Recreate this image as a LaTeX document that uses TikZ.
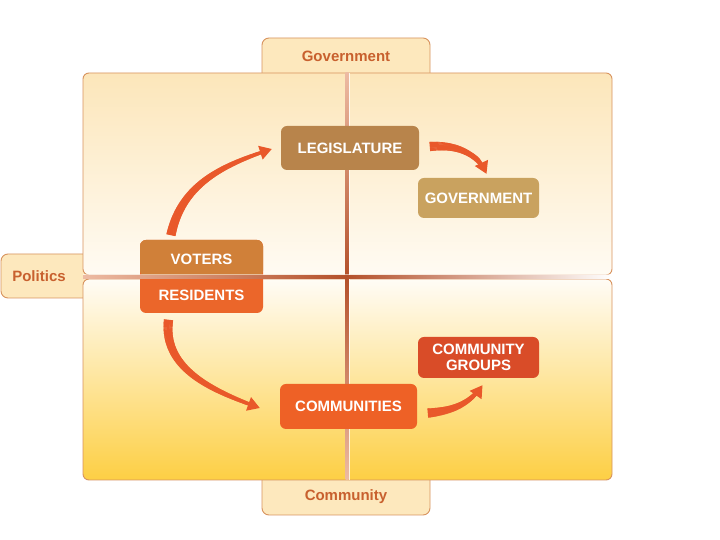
\documentclass[tikz,border=0pt]{standalone}
\usepackage{fontspec}
\setmainfont{Liberation Sans}
\usetikzlibrary{arrows.meta,decorations.markings}
\definecolor{tabfill}{HTML}{FDE8BD}
\definecolor{edge}{HTML}{D8935E}
\definecolor{tabtext}{HTML}{C8602E}
\definecolor{panelA}{HTML}{FCE6BA}
\definecolor{panelB}{HTML}{FFFBF3}
\definecolor{panelC}{HTML}{FFFCF6}
\definecolor{panelD}{HTML}{FDCF44}
\definecolor{lndark}{HTML}{B4512B}
\definecolor{lnlight}{HTML}{EDBBA3}
\definecolor{legfill}{HTML}{B8844B}
\definecolor{govfill}{HTML}{C9A25F}
\definecolor{vtop}{HTML}{D08039}
\definecolor{rbot}{HTML}{EB662A}
\definecolor{cgfill}{HTML}{D94C28}
\definecolor{comfill}{HTML}{EE6126}
\definecolor{arr}{HTML}{E9582A}
\tikzset{
  tabshape/.style={fill=tabfill, draw=edge, line width=0.9pt, rounded corners=7pt},
  tablabel/.style={text=tabtext, font=\fontsize{15}{16}\selectfont\bfseries},
  panel/.style={draw=edge, line width=0.9pt, rounded corners=6pt},
  box/.style={rounded corners=6pt, inner sep=0pt},
  lbl/.style={text=white, font=\fontsize{15}{16}\selectfont\bfseries, align=center, inner sep=0pt},
  flow/.style={draw=arr, line width=2pt, -{Triangle[length=12pt,width=14pt]},
    decoration={markings, mark=between positions 0 and -8pt step 0.5pt with {%
      \pgfmathsetmacro\hw{4.6-3.2*\pgfkeysvalueof{/pgf/decoration/mark info/distance from start}/\pgfdecoratedpathlength}%
      \fill[arr] (-0.45pt,-\hw pt) rectangle (0.45pt,\hw pt);}},
    postaction=decorate}
}
\begin{document}
\begin{tikzpicture}[x=1pt,y=1pt]
\useasboundingbox (0,0) rectangle (720,540);
\fill[white] (0,0) rectangle (720,540);
% tabs
\path[tabshape] (262,455) |- (430,502) -- (430,455) -- cycle;
\path[tabshape] (262,75) |- (430,25) -- (430,75) -- cycle;
\path[tabshape] (95,242) -| (1,286) -- (95,286) -- cycle;
\node[tablabel] (tgov) at (346,484) {Government};
\node[tablabel] (tcom) at (346,43) {Community};
\node[tablabel] (tpol) at (39,264) {Politics};
% panels
\path[panel, top color=panelA, bottom color=panelB] (83,265) rectangle (612,467);
\path[panel, top color=panelC, bottom color=panelD] (83,60) rectangle (612,261);
% vertical divider
\shade[top color=lnlight, bottom color=lndark] (345.5,263) rectangle (348.5,467);
\shade[top color=lndark, bottom color=lnlight] (345.5,60) rectangle (348.5,263);
\fill[white, opacity=0.8] (349,60) rectangle (350.2,467);
% boxes
\node[box, fill=legfill, minimum width=138pt, minimum height=44pt] (leg) at (350,392) {};
\node[lbl] (legt) at (leg.center) {LEGISLATURE};
\node[box, fill=govfill, minimum width=121pt, minimum height=40pt] (gov) at (478.5,342) {};
\node[lbl] (govt) at (gov.center) {GOVERNMENT};
\node[box, fill=rbot, minimum width=123pt, minimum height=73pt,
  path picture={\fill[vtop] (path picture bounding box.north west) rectangle (path picture bounding box.east);}] (vr) at (201.5,263.5) {};
\node[lbl] (voters) at (201.5,281) {VOTERS};
\node[lbl] (residents) at (201.5,245) {RESIDENTS};
\node[box, fill=cgfill, minimum width=121pt, minimum height=41pt] (cg) at (478.5,182.5) {};
\node[lbl] (cgt) at (cg.center) {COMMUNITY\\GROUPS};
\node[box, fill=comfill, minimum width=137pt, minimum height=45pt] (com) at (348.5,133.5) {};
\node[lbl] (comt) at (com.center) {COMMUNITIES};
% horizontal divider
\shade[left color=lnlight, right color=lndark] (83,261.5) rectangle (347,264.5);
\shade[left color=lndark, right color=white] (347,261.5) rectangle (612,264.5);
\fill[white, opacity=0.5] (83,265) rectangle (612,266);
% arrows
\draw[flow] ([xshift=-30.5pt,yshift=5pt]vr.north) to[out=78,in=198] ([xshift=-9pt,yshift=-1pt]leg.west);
\draw[flow] ([xshift=11pt,yshift=1.5pt]leg.east) to[out=5,in=115] ([xshift=8pt,yshift=4pt]gov.north);
\draw[flow] ([xshift=-33pt,yshift=-7pt]vr.south) to[out=-97,in=160] ([xshift=-20pt,yshift=-1.5pt]com.west);
\draw[flow] ([xshift=11pt,yshift=-6.5pt]com.east) to[out=5,in=235] ([xshift=4pt,yshift=-7pt]cg.south);
\end{tikzpicture}
\end{document}
